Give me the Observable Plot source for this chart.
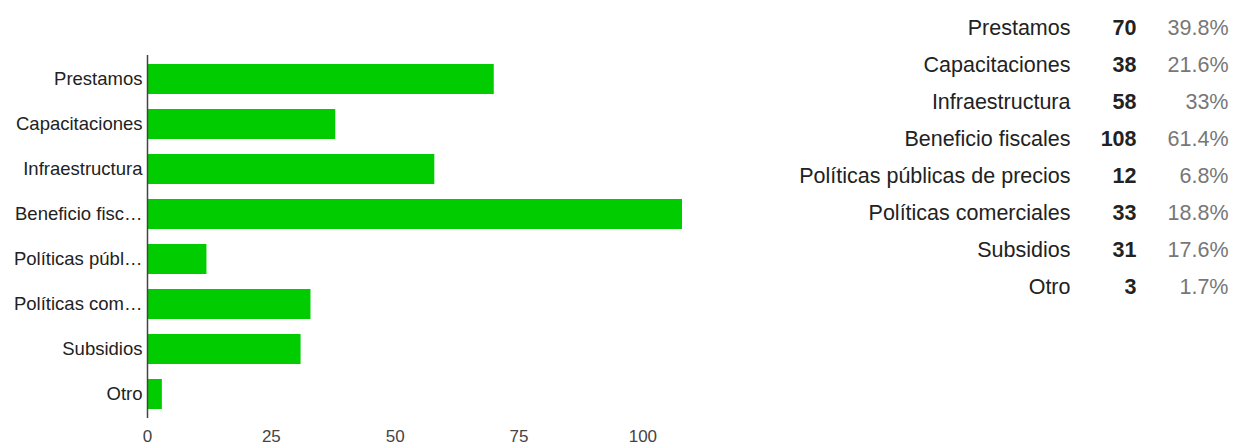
<!DOCTYPE html>
<html>
<head>
<meta charset="utf-8">
<script src="https://cdn.jsdelivr.net/npm/d3@7"></script>
<script src="https://cdn.jsdelivr.net/npm/@observablehq/plot@0.6"></script>
<style>
  html, body { margin: 0; padding: 0; background: #fff; }
  #wrap { position: relative; width: 1237px; height: 447px; font-family: "Liberation Sans", Arial, sans-serif; }
  #wrap svg { position: absolute; left: 0; top: 0; }
</style>
</head>
<body>
<div id="wrap"></div>
<script>
const categories = ["Prestamos", "Capacitaciones", "Infraestructura", "Beneficio fiscales", "Políticas públicas de precios", "Políticas comerciales", "Subsidios", "Otro"];
const shortLabels = ["Prestamos", "Capacitaciones", "Infraestructura", "Beneficio fisc…", "Políticas públ…", "Políticas com…", "Subsidios", "Otro"];
const counts = [70, 38, 58, 108, 12, 33, 31, 3];
const percents = ["39.8%", "21.6%", "33%", "61.4%", "6.8%", "18.8%", "17.6%", "1.7%"];
const xTicks = [0, 25, 50, 75, 100];

const rows = categories.map((c, i) => ({category: c, short: shortLabels[i], count: counts[i], pct: percents[i]}));
const shortOf = new Map(categories.map((c, i) => [c, shortLabels[i]]));
const font = "Liberation Sans, Arial, sans-serif";

const bars = Plot.plot({
  width: 1237,
  height: 447,
  marginLeft: 147,
  marginRight: 555,
  marginTop: 55,
  marginBottom: 29,
  style: {fontFamily: font, background: "transparent", overflow: "visible"},
  x: {domain: [0, 108], ticks: xTicks},
  y: {domain: categories, paddingInner: 0.33, paddingOuter: 0.165},
  marks: [
    Plot.barX(rows, {x: "count", y: "category", fill: "#00cc00"}),
    Plot.ruleX([0], {stroke: "#444", strokeWidth: 1.5}),
    Plot.axisX({ticks: xTicks, tickSize: 0, tickPadding: 11, fontSize: 17, color: "#444", label: null}),
    Plot.axisY({tickSize: 0, tickPadding: 5, fontSize: 18.5, color: "#222", label: null, tickFormat: d => shortOf.get(d)})
  ]
});

const table = Plot.plot({
  width: 1237,
  height: 447,
  marginLeft: 0,
  marginRight: 9,
  marginTop: 25,
  marginBottom: 157,
  style: {fontFamily: font, background: "transparent"},
  y: {type: "point", domain: categories, padding: 0, axis: null},
  marks: [
    Plot.text(rows, {y: "category", text: "category", frameAnchor: "right", dx: -158, textAnchor: "end", fontSize: 21.5, fill: "#222"}),
    Plot.text(rows, {y: "category", text: "count", frameAnchor: "right", dx: -92, textAnchor: "end", fontSize: 21.5, fontWeight: "bold", fill: "#222"}),
    Plot.text(rows, {y: "category", text: "pct", frameAnchor: "right", dx: 0, textAnchor: "end", fontSize: 21.5, fill: "#777"})
  ]
});

const wrap = document.getElementById("wrap");
wrap.appendChild(bars);
wrap.appendChild(table);
</script>
</body>
</html>
